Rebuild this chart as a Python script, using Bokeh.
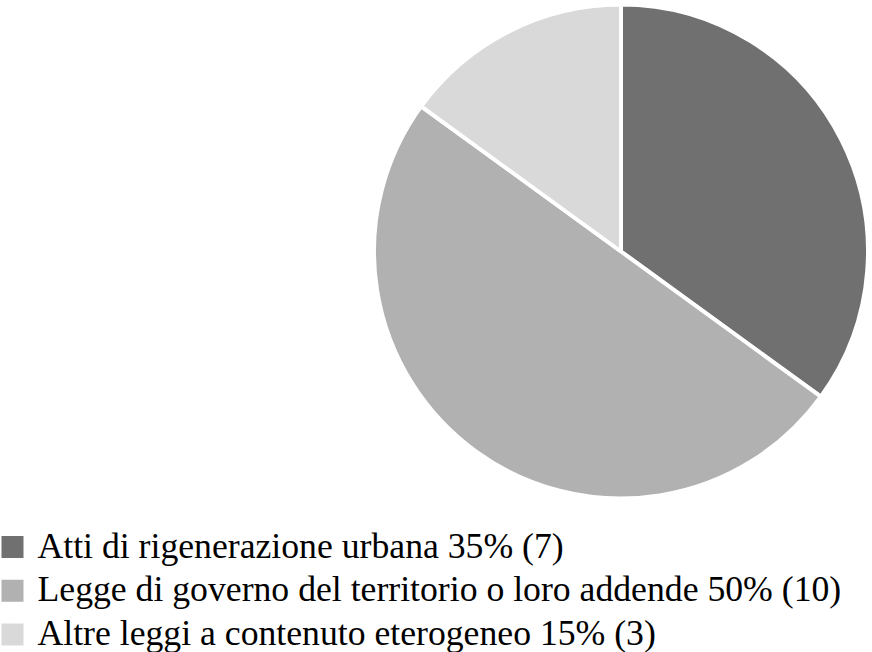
import numpy as np
from bokeh.plotting import figure
from bokeh.models import ColumnDataSource, Range1d
from bokeh.core.properties import value
from bokeh.embed import file_html
from bokeh.resources import INLINE

# ---- data ----
categories = ["Atti di rigenerazione urbana",
              "Legge di governo del territorio o loro addende",
              "Altre leggi a contenuto eterogeneo"]
counts = [7, 10, 3]
percents = [35, 50, 15]
colors = ["#707070", "#b1b1b1", "#d9d9d9"]

# ---- layout constants (pixels, y measured from top) ----
W, H = 872, 652
CX, CY, R = 620.5, 251.0, 247.0
LEG_X0 = 12.0          # centre of legend squares
LEG_Y0 = 546.5         # centre of first legend square
LEG_STEP = 43.75
SQ = 22
TEXT_X = 37.0
TEXT_DY = 1.5          # text middle sits slightly above square centre
FONT = "Liberation Serif"
FONT_SIZE = "35.7px"

total = float(sum(counts))
fr = np.array(counts) / total
cum = np.concatenate([[0.0], np.cumsum(fr)])
start = np.pi / 2 - 2 * np.pi * cum[:-1]
end = np.pi / 2 - 2 * np.pi * cum[1:]

src = ColumnDataSource(dict(start=start, end=end, color=colors))

p = figure(width=W, height=H, output_backend="svg", toolbar_location=None,
           x_range=Range1d(0, W), y_range=Range1d(0, H),
           min_border=0, outline_line_color=None, margin=0)
p.axis.visible = False
p.grid.visible = False
p.background_fill_color = "white"
p.border_fill_color = "white"

p.wedge(x=CX, y=H - CY, radius=R, start_angle="start", end_angle="end",
        direction="clock", fill_color="color", line_color="white",
        line_width=4, source=src)

labels = [f"{c} {pc}% ({n})" for c, pc, n in zip(categories, percents, counts)]
ys = [H - (LEG_Y0 + i * LEG_STEP) for i in range(len(categories))]
leg = ColumnDataSource(dict(x=[LEG_X0] * len(ys), y=ys, color=colors,
                            tx=[TEXT_X] * len(ys), ty=[y + TEXT_DY for y in ys],
                            label=labels))
p.rect(x="x", y="y", width=SQ, height=SQ, fill_color="color",
       line_color=None, source=leg)
p.text(x="tx", y="ty", text="label", text_font=value(FONT),
       text_font_size=FONT_SIZE, text_color="black",
       text_baseline="middle", text_align="left", source=leg)

open("out.html", "w").write(file_html(p, INLINE))
